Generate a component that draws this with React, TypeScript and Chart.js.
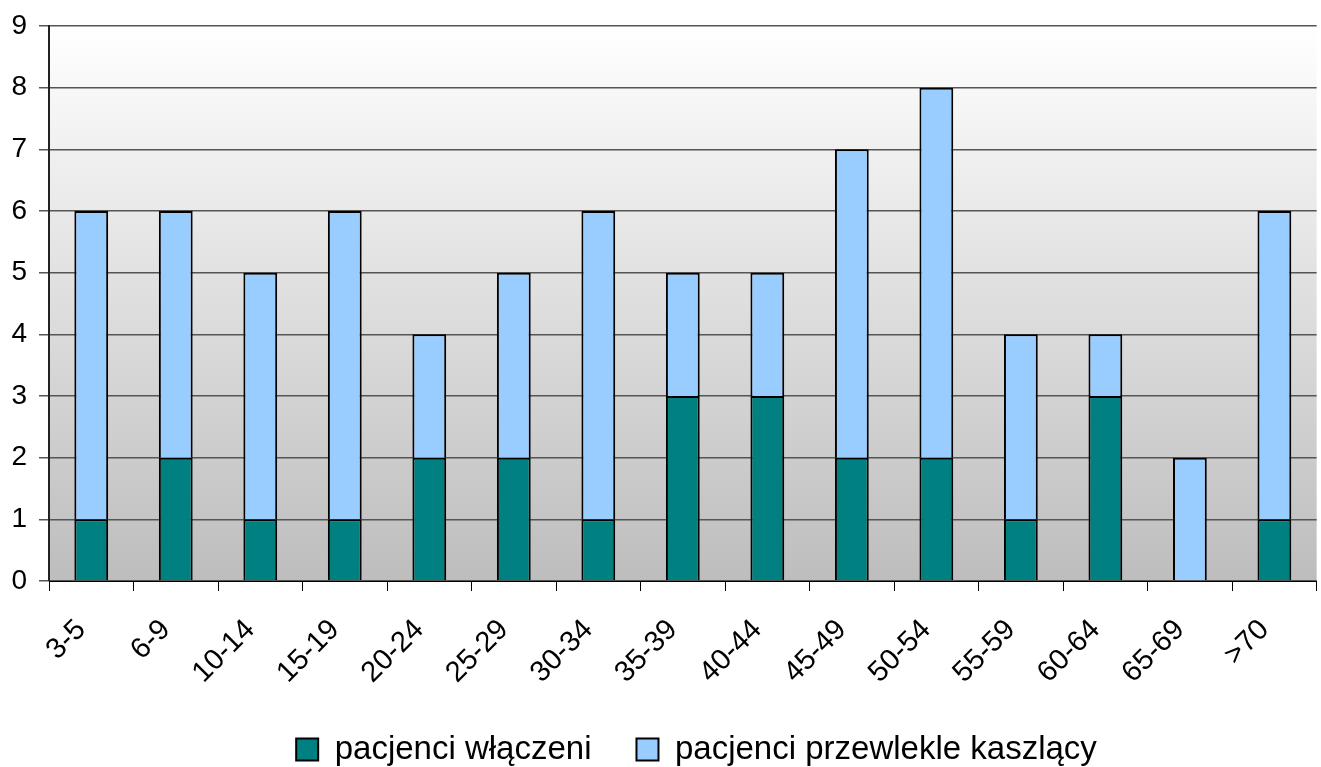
import React, { useEffect, useRef } from "react";
import { Chart, registerables } from "chart.js";

Chart.register(...registerables);

const categories = ["3-5", "6-9", "10-14", "15-19", "20-24", "25-29", "30-34", "35-39", "40-44", "45-49", "50-54", "55-59", "60-64", "65-69", ">70"];
const included = [1, 2, 1, 1, 2, 2, 1, 3, 3, 2, 2, 1, 3, 0, 1];
const chronic = [5, 4, 4, 5, 2, 3, 5, 2, 2, 5, 6, 3, 1, 2, 5];
const seriesNames = ["pacjenci włączeni", "pacjenci przewlekle kaszlący"];

const bgPlugin = {
  id: "bgGradient",
  beforeDraw(chart: any) {
    const { ctx, chartArea } = chart;
    if (!chartArea) return;
    const g = ctx.createLinearGradient(0, chartArea.top, 0, chartArea.bottom);
    g.addColorStop(0, "#ffffff");
    g.addColorStop(1, "#bdbdbd");
    ctx.save();
    ctx.fillStyle = g;
    ctx.fillRect(chartArea.left, chartArea.top, chartArea.right - chartArea.left, chartArea.bottom - chartArea.top);
    ctx.restore();
  },
};

const legendShift = {
  id: "legendShift",
  afterLayout(chart: any) {
    const lg = chart.legend;
    if (lg) {
      lg.left += 36;
      lg.right += 36;
      lg.top = 688;
      lg.bottom = 767;
    }
  },
};

export default function App() {
  const ref = useRef<HTMLCanvasElement>(null);
  useEffect(() => {
    document.body.style.margin = "0";
    const chart = new Chart(ref.current!, {
      type: "bar",
      data: {
        labels: categories,
        datasets: [
          { label: seriesNames[0], data: included, backgroundColor: "#008080", borderColor: "#000000", borderWidth: 2, barPercentage: 0.4, categoryPercentage: 1 },
          { label: seriesNames[1], data: chronic, backgroundColor: "#99ccff", borderColor: "#000000", borderWidth: 2, barPercentage: 0.4, categoryPercentage: 1 },
        ],
      },
      options: {
        responsive: false,
        animation: false,
        layout: { padding: { left: 0, right: 0, top: 0, bottom: 0 } },
        plugins: {
          tooltip: { enabled: false },
          legend: {
            position: "bottom",
            maxHeight: 50,
            labels: {
              font: { family: "Liberation Sans", size: 33 },
              color: "#000",
              boxWidth: 22,
              boxHeight: 22,
              padding: 45,
              generateLabels: (c: any) =>
                c.data.datasets.map((d: any, i: number) => ({
                  text: d.label,
                  fillStyle: d.backgroundColor,
                  strokeStyle: "#000",
                  lineWidth: 2,
                  datasetIndex: i,
                })),
            },
          },
        },
        scales: {
          x: {
            stacked: true,
            grid: { offset: true, drawOnChartArea: false, color: "#000", tickLength: 10, lineWidth: 1 },
            border: { color: "#000", width: 1 },
            ticks: { color: "#000", font: { family: "Liberation Sans", size: 29 }, maxRotation: 45, minRotation: 45, padding: 22, labelOffset: -10 },
            afterFit: (s: any) => {
              s.height = 136;
            },
          },
          y: {
            stacked: true,
            min: 0,
            max: 9,
            grid: { color: "#555", lineWidth: 1.5, tickLength: 10 },
            border: { color: "#222", width: 2 },
            ticks: { stepSize: 1, color: "#000", font: { family: "Liberation Sans", size: 28, lineHeight: 1 }, padding: 12 },
            afterFit: (s: any) => {
              s.width = 49;
            },
          },
        },
      },
      plugins: [bgPlugin, legendShift],
    });
    return () => chart.destroy();
  }, []);
  return (
    <div style={{ position: "absolute", left: 0, top: 0, width: 1321, height: 767 }}>
      <canvas ref={ref} width={1321} height={767} />
    </div>
  );
}
